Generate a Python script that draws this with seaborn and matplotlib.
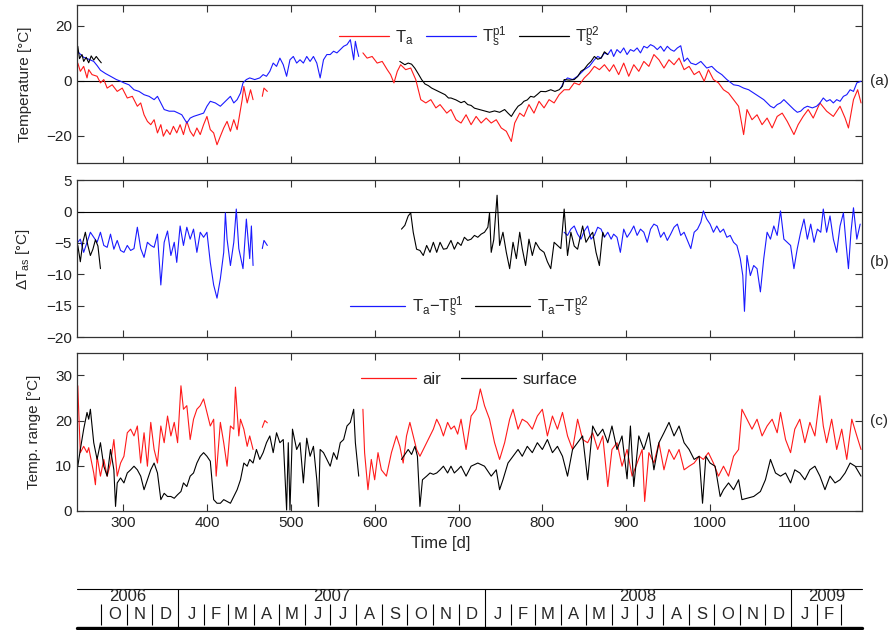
import numpy as np
import pandas as pd
import matplotlib.pyplot as plt
import seaborn as sns
from matplotlib.lines import Line2D

# ---------------- DATA (day 1 = 1 Jan 2006) ----------------
# None marks a gap in the record

# panel (a): air temperature
ta_day = [246, 249, 253, 257, 259, 263, 269, 273, 277, 281,
          287, 293, 299, 305, 311, 317, 321, 325, 329, 333,
          337, 341, 345, 348, 352, 356, 360, 364, 368, 372,
          376, 380, 384, 388, 392, 396, 400, 404, 408, 412,
          416, 420, 424, 428, 432, 436, 440, 442, 444, 448,
          452, 455, 460, 466, 468, 472, 530,
          586, 591, 597, 603, 609, 615, 619, 623, 627, 631,
          637, 643, 649, 655, 661, 667, 673, 678, 686, 691,
          697, 703, 709, 715, 721, 727, 733, 739, 745, 751,
          757, 763, 767, 773, 778, 784, 790, 796, 802, 808,
          814, 820, 826, 832, 838, 844, 850, 856, 862, 868,
          874, 880, 885, 891, 897, 903, 909, 915, 921, 927,
          933, 939, 945, 951, 957, 963, 969, 975, 981, 987,
          993, 998, 1004, 1010, 1016, 1022, 1028, 1034, 1040, 1044,
          1050, 1056, 1062, 1068, 1074, 1080, 1086, 1092, 1100, 1105,
          1111, 1117, 1123, 1131, 1139, 1147, 1155, 1161, 1165, 1171,
          1176, 1180]
ta_val = [6.4, 3.4, 5.2, 1.0, 4.0, 2.2, 1.6, -0.8, 0.4, -2.7,
          -1.5, -3.9, -2.7, -6.3, -5.7, -9.3, -8.1, -12.4, -14.8, -16,
          -14.2, -19, -16, -20.2, -17.8, -19.6, -16.6, -19, -16, -19.6,
          -14.8, -18.4, -20.2, -17.2, -19.6, -16, -13, -17.8, -19, -23.3,
          -20.2, -17.2, -14.8, -18.4, -14.2, -17.8, -10.5, -6.9, -2.1, -8.1,
          -3.3, -6.9, None, -5.7, -2.7, -3.9, None,
          10.1, 8.2, 8.8, 6.4, 7, 4, 2.2, -0.8, 3.4, 5.8,
          4, 4.6, 0.4, -6.9, -8.1, -6.9, -9.9, -8.7, -11.8, -10.5,
          -14.2, -15.4, -12.4, -16, -13, -15.4, -13.6, -15.4, -14.2, -17.2,
          -18.4, -22.1, -15.4, -11.8, -13, -8.7, -11.8, -7.5, -9.9, -6.9,
          -8.1, -5.1, -3.3, -3.3, -0.8, -1.5, 1, 2.8, 5.2, 4,
          5.8, 3.4, 5.8, 2.2, 6.4, 1.6, 5.8, 3.4, 7, 5.2,
          9.5, 7.6, 4.6, 7.6, 5.8, 8.2, 4, 5.2, 2.2, 3.4,
          -0.2, 4, 0.4, -0.8, -3.3, -4.5, -6.9, -9.3, -19.6, -10.5,
          -14.2, -12.4, -16, -13.6, -17.2, -13, -11.8, -14.8, -19.6, -16,
          -13, -10.5, -13.6, -8.1, -11.1, -13, -9.3, -13.6, -17.2, -6.9,
          -3.3, -8.1]

# panel (a): surface temperature, profile p1
ts1_day = [246, 253, 259, 265, 269, 273, 279, 285, 292, 297,
           301, 307, 313, 319, 325, 331, 337, 341, 345, 349,
           355, 361, 366, 370, 376, 380, 384, 390, 396, 400,
           404, 410, 416, 420, 424, 428, 432, 436, 440, 443,
           447, 451, 457, 463, 467, 471, 475, 479, 483, 487,
           491, 495, 499, 503, 507, 511, 515, 519, 523, 527,
           531, 535, 539, 543, 547, 551, 555, 559, 563, 567,
           571, 575, 577, 579, 581, 700,
           822, 826, 830, 836, 842, 846, 850, 856, 862, 866,
           870, 874, 878, 882, 885, 889, 893, 897, 901, 905,
           909, 913, 917, 921, 925, 929, 933, 937, 941, 945,
           949, 953, 957, 961, 965, 969, 973, 977, 983, 989,
           996, 1002, 1008, 1014, 1020, 1028, 1034, 1040, 1046, 1052,
           1058, 1064, 1068, 1072, 1076, 1080, 1084, 1088, 1094, 1100,
           1104, 1108, 1112, 1116, 1122, 1127, 1131, 1135, 1139, 1143,
           1147, 1151, 1155, 1159, 1163, 1167, 1171, 1175, 1180]
ts1_val = [10.5, 8.5, 7.8, 7, 5.5, 3.8, 2.6, 1.6, 0.4, -0.2,
           -0.8, -1.5, -3.3, -3.9, -5.1, -5.7, -6.9, -5.7, -8.1, -10.5,
           -11.1, -11.1, -11.8, -12.4, -15.4, -13.6, -13, -12.4, -11.8, -9.3,
           -7.5, -8.1, -9.3, -8.1, -6.9, -5.7, -8.1, -6.9, -4.5, -0.8,
           0.4, 1, 0.4, 1, 2.2, 1.6, 3.4, 6.4, 5.2, 8.2,
           5.8, 1.6, 7.6, 8.8, 6.4, 7.6, 6.4, 8.8, 7, 8.8,
           6.4, 1, 7.6, 9.5, 9.5, 10.7, 10.1, 11.3, 12.5, 13.1,
           14.9, 7.6, 14.3, 11.3, 8.8, None,
           -2.7, -0.2, 1, 0.4, 1.6, 2.8, 4, 5.2, 7.6, 8.8,
           8.2, 10.1, 9.5, 11.3, 8.8, 11.3, 10.1, 11.9, 9.5, 11.3,
           10.7, 11.9, 10.1, 12.5, 11.9, 13.1, 12.5, 11.3, 12.5, 10.7,
           12.5, 11.3, 10.7, 11.9, 12.7, 7, 8.2, 6.4, 5.8, 7,
           4.6, 5.2, 3.4, 2.2, 0.4, -1.5, -1.8, -2.7, -3.3, -4.5,
           -5.7, -6.9, -8.1, -9.3, -9.9, -8.7, -8.1, -6.9, -8.7, -10.5,
           -11.5, -11.1, -9.9, -9.3, -9.9, -9.3, -8.1, -6.3, -7.5, -6.9,
           -8.1, -6.9, -7.5, -5.7, -5.1, -3.3, -3.9, -0.8, -0.2]

# panel (a): surface temperature, profile p2
ts2_day = [246, 248, 251, 253, 256, 259, 262, 265, 268, 271,
           274, 450,
           630, 636, 640, 644, 648, 652, 656, 660, 664, 668,
           672, 676, 680, 684, 688, 691, 697, 703, 707, 711,
           715, 719, 725, 731, 737, 743, 749, 755, 759, 763,
           767, 771, 775, 778, 782, 786, 790, 794, 798, 804,
           810, 815, 820, 824, 826, 832, 838, 842, 846, 850,
           854, 858, 862, 866, 870, 874, 878]
ts2_val = [12.5, 8, 9.5, 7, 8.5, 6.5, 9, 7.5, 8.8, 7.6,
           6.5, None,
           7, 5.8, 6.4, 6, 4.5, 2.5, 0.4, -1.2, -1.8, -2.7,
           -3.3, -3.9, -4.5, -5.1, -6.3, -6.3, -7, -8, -7.5, -8.7,
           -9, -10, -10.5, -11, -11.5, -11, -11.5, -10.5, -11.8, -13,
           -11, -9.3, -8.5, -7.5, -7, -5.7, -6, -5, -3.9, -4,
           -3.3, -3.9, -3.3, -2, 0.4, 0.2, 0.4, 1.5, 3.4, 4.2,
           5.8, 7, 8.8, 7.8, 8.2, 10.5, 9.5]

# panel (b): Ta - Ts(p1)
d1_day = [246, 249, 253, 257, 261, 265, 269, 273, 277, 281,
          285, 289, 293, 297, 301, 305, 309, 313, 317, 321,
          325, 329, 333, 337, 341, 345, 349, 353, 357, 361,
          364, 368, 372, 376, 380, 384, 388, 392, 396, 400,
          404, 408, 412, 416, 420, 422, 424, 428, 432, 435,
          438, 443, 447, 451, 453, 455, 460, 466, 468, 472, 600,
          826, 830, 834, 838, 842, 846, 850, 854, 858, 862,
          866, 870, 874, 878, 882, 885, 889, 893, 897, 901,
          905, 909, 913, 917, 921, 925, 929, 933, 937, 941,
          945, 949, 953, 957, 961, 965, 969, 973, 977, 981,
          985, 989, 992, 996, 1000, 1004, 1008, 1012, 1016, 1020,
          1024, 1028, 1032, 1036, 1039, 1041, 1044, 1048, 1052, 1056,
          1060, 1064, 1068, 1072, 1076, 1080, 1084, 1088, 1092, 1096,
          1100, 1104, 1108, 1112, 1116, 1120, 1124, 1128, 1132, 1135,
          1139, 1143, 1147, 1151, 1155, 1159, 1162, 1165, 1168, 1171,
          1175, 1179]
d1_val = [-4.9, -4.4, -6.5, -4.9, -3.3, -4.1, -4.9, -3.3, -5.4, -5.7,
          -3.6, -6, -4.6, -6.2, -6.5, -5.4, -6.2, -5.9, -2.5, -5.9,
          -7.3, -4.9, -5.4, -5.7, -3.6, -11.7, -4.9, -3.1, -7, -4.9,
          -8.1, -2.3, -5.4, -2.5, -4.4, -2.8, -6.5, -3.3, -4.1, -3.3,
          -8.1, -11.7, -13.8, -10.7, -6.5, -0.2, -4.4, -8.6, -4.9, 0.4,
          -5.9, -9.1, -1.2, -7.5, -2.3, -8.6, None, -5.9, -4.6, -5.4, None,
          -3.3, -3.8, -2.8, -2.3, -3.6, -4.4, -3.1, -2.3, -4.4, -3.8,
          -2.5, -2.8, -4.1, -3.3, -4.4, -3.6, -4.1, -6.5, -2.8, -4.1,
          -3.3, -2.3, -3.8, -2.8, -3.3, -4.9, -2.8, -2, -2.3, -4.1,
          -3.3, -4.6, -3.6, -2.5, -2, -3.8, -3.3, -4.6, -5.9, -3.3,
          -2.8, -1.7, 0.1, -1.2, -2, -3.3, -2.3, -3.3, -2.8, -4.1,
          -3.8, -4.9, -5.4, -7.5, -10.2, -15.9, -7, -10.2, -8.6, -9.1,
          -12.8, -7.5, -3.3, -4.4, -2.3, -3.8, 0.1, -4.4, -4.9, -5.4,
          -9.1, -5.9, -3.3, -1.2, -4.4, -2, -4.9, -2.8, -3.3, 0.4,
          -3.3, -0.7, -4.4, -6.5, -2.3, -0.2, -4.9, -9.1, -3.3, 0.6,
          -4.4, -2]

# panel (b): Ta - Ts(p2)
d2_day = [246, 249, 252, 255, 258, 261, 264, 267, 270, 273, 450,
          632, 636, 640, 643, 646, 650, 654, 658, 662, 666,
          670, 674, 678, 682, 686, 691, 695, 699, 703, 707,
          711, 715, 719, 723, 727, 731, 735, 737, 739, 742,
          746, 749, 753, 757, 761, 765, 769, 773, 776, 780,
          784, 788, 792, 797, 802, 806, 810, 814, 818, 822,
          826, 830, 834, 838, 842, 848, 852, 856, 860, 864,
          868, 872, 874]
d2_val = [-5.4, -8, -4.9, -3.3, -5.4, -7, -6, -4.5, -5.5, -9.1, None,
          -2.8, -2.2, -0.7, -0.2, -3.3, -6, -6.2, -7, -5.4, -6.5,
          -4.9, -6.5, -4.9, -6, -5.9, -4.6, -6, -4.9, -5.4, -4.1,
          -4.6, -4.4, -3.8, -4.1, -3.6, -3.3, -2.5, -0.2, -6.5, -4.5,
          2.6, -5.4, -3.3, -6.5, -9.1, -4.9, -7.5, -3.3, -5.9, -8.6,
          -4.4, -7, -4.9, -6, -6.5, -8, -9.1, -4.9, -5.4, -5.9,
          0.4, -7, -3.3, -5.5, -6, -2.3, -4.9, -4, -3.3, -6.5,
          -8.6, -3.3, -4]

# panel (c): daily temperature range of the air
air_day = [246, 247, 249, 253, 257, 259, 261, 265, 267, 269,
           273, 277, 281, 285, 289, 293, 297, 301, 305, 309,
           313, 317, 321, 325, 329, 333, 337, 341, 345, 349,
           353, 357, 361, 365, 369, 372, 376, 380, 384, 388,
           392, 396, 400, 404, 408, 411, 416, 420, 424, 428,
           432, 434, 438, 440, 444, 448, 451, 455, 460, 466, 469, 472, 530,
           586, 588, 592, 596, 600, 604, 608, 614, 620, 626,
           630, 634, 638, 642, 646, 650, 654, 658, 662, 666,
           670, 674, 678, 682, 687, 691, 695, 699, 703, 709,
           715, 721, 726, 731, 737, 743, 749, 755, 761, 765,
           771, 776, 782, 788, 794, 800, 806, 812, 818, 824,
           830, 836, 842, 848, 854, 860, 866, 872, 878, 883,
           889, 895, 901, 907, 913, 919, 922, 927, 933, 939,
           945, 951, 957, 963, 969, 975, 981, 987, 992, 998,
           1004, 1010, 1016, 1022, 1028, 1034, 1038, 1044, 1050, 1056,
           1062, 1068, 1074, 1080, 1084, 1090, 1096, 1101, 1107, 1113,
           1119, 1125, 1131, 1135, 1139, 1145, 1151, 1157, 1163, 1169,
           1175, 1180]
air_val = [27.7, 22.5, 12.9, 14.3, 12.9, 14, 12.1, 8.4, 5.8, 12.1,
           7.7, 11.4, 7.7, 10.6, 15.8, 7.7, 10.6, 12.1, 17.3, 18.1,
           16.6, 18.8, 10.6, 17.3, 9.9, 19.6, 13.6, 10.6, 18.8, 15.1,
           21, 16.6, 19.6, 15.1, 27.7, 22.5, 23.3, 15.8, 20.3, 22.5,
           23.3, 24.8, 21.8, 18.8, 20.3, 7.7, 19.6, 15.1, 9.9, 18.8,
           18.1, 27.4, 16.6, 20.3, 18.1, 14.3, 16.6, 13.6, None, 18.5, 20, 19.5, None,
           22.5, 12.9, 4.7, 11.4, 6.9, 12.9, 9.1, 7.7, 12.9, 16.6,
           14.3, 10.6, 16.6, 19.6, 16.6, 13.6, 12.1, 13.6, 15.1, 16.6,
           18.1, 20.3, 18.8, 16.6, 19.6, 18.1, 18.8, 17, 20.3, 13.6,
           21, 22.5, 27, 23.3, 20.3, 15.1, 11.4, 15.1, 20.3, 22.5,
           18.1, 20.3, 19.6, 18.1, 21, 22.5, 16.6, 21, 18.1, 21.8,
           16.6, 13.6, 20.3, 15.8, 15.1, 17.3, 13.6, 16.6, 5.4, 13.6,
           15.1, 9.9, 13.6, 7.7, 10.6, 13.6, 2.1, 12.9, 10.6, 15.1,
           9.1, 13.6, 11.4, 13.6, 9.1, 9.9, 10.6, 12.1, 11.4, 12.9,
           10.6, 7.7, 9.9, 7.7, 12.1, 13.6, 22.5, 20.3, 18.1, 20.3,
           16.6, 18.8, 20.3, 17.3, 21.8, 15.8, 12.9, 18.1, 20.3, 15.1,
           19.6, 16.6, 25.5, 18.8, 15.1, 20.3, 13.6, 18.1, 11.4, 20.3,
           16.6, 13.6]

# panel (c): daily temperature range of the surface
sfc_day = [246, 249, 253, 257, 259, 261, 265, 269, 273, 277,
           281, 285, 289, 291, 293, 297, 301, 305, 309, 313,
           317, 321, 325, 329, 333, 337, 341, 345, 349, 353,
           357, 361, 365, 369, 372, 376, 380, 384, 388, 392,
           396, 400, 404, 408, 412, 416, 420, 424, 428, 432,
           436, 440, 444, 448, 451, 455, 459, 463, 467, 471,
           475, 479, 483, 487, 491, 495, 497, 499, 502, 507,
           511, 515, 519, 523, 527, 531, 533, 535, 539, 543,
           547, 551, 555, 559, 563, 567, 571, 575, 577, 581, 600,
           632, 636, 640, 644, 648, 651, 654, 657, 662, 666,
           670, 674, 678, 682, 687, 691, 695, 699, 703, 709,
           715, 723, 731, 739, 745, 749, 753, 759, 765, 771,
           776, 782, 788, 794, 800, 806, 812, 818, 824, 830,
           836, 842, 848, 854, 860, 866, 872, 878, 883, 889,
           895, 901, 905, 909, 915, 921, 927, 933, 939, 945,
           951, 957, 963, 969, 975, 981, 987, 991, 995, 1000,
           1006, 1012, 1016, 1022, 1028, 1034, 1038, 1044, 1052, 1060,
           1066, 1072, 1078, 1084, 1090, 1096, 1101, 1107, 1113, 1119,
           1125, 1131, 1137, 1143, 1149, 1155, 1161, 1167, 1173, 1180]
sfc_val = [9.9, 13.6, 18.1, 21.8, 20.3, 22.5, 15.1, 11.4, 15.1, 9.9,
           7.7, 13.6, 9.1, 1, 6.2, 7.3, 6.2, 8.4, 9.1, 9.9,
           9.1, 7.7, 4.7, 6.9, 9.1, 10.6, 8.4, 2.5, 3.9, 3.2,
           3.2, 2.8, 3.6, 4.3, 6.2, 5.4, 7.7, 8.4, 10.6, 12.1,
           12.9, 12.1, 11, 2.5, 1.7, 1.7, 2.5, 2.1, 1.7, 3.2,
           4.7, 6.9, 10.6, 9.9, 11.4, 10.6, 13.6, 11.4, 12.9, 15.1,
           16.6, 12.9, 17.3, 15.1, 15.8, 0.2, 15.1, 0.2, 18.1, 13.6,
           15.1, 6.2, 16.1, 12.1, 14.3, 6.9, 1, 13.6, 12.9, 11.4,
           9.9, 12.9, 11.4, 15.1, 15.8, 18.8, 19.6, 22.5, 15.1, 7.7, None,
           11.4, 12.5, 13.6, 12.5, 14.3, 12.1, 1, 6.9, 7.7, 8.4,
           8.1, 8.4, 9.1, 9.9, 8.4, 9.9, 8.4, 9.1, 9.9, 7.7,
           9.9, 10.6, 9.9, 7.7, 9.1, 4.7, 6.9, 10.6, 12.1, 13.6,
           12.1, 14.3, 12.9, 15.1, 13.6, 15.8, 12.9, 14.3, 12.1, 7.7,
           13.6, 15.1, 16.6, 6.9, 18.8, 16.6, 18.1, 15.1, 18.8, 13.6,
           16.6, 7.1, 18.8, 5.4, 16.6, 13.6, 17.3, 9.1, 15.1, 17.3,
           19.6, 16.6, 18.8, 15.1, 13.6, 11.4, 12.1, 1.7, 12.1, 10.6,
           9.9, 3.2, 4.7, 6.2, 4.7, 6.9, 2.5, 2.8, 3.2, 4.3,
           6.9, 11.4, 8.4, 7.7, 8.4, 6.2, 9.1, 8.4, 6.9, 9.1,
           9.9, 7.7, 4.7, 7.7, 6.2, 6.9, 8.4, 10.6, 9.9, 7.7]

# calendar strip
day_zero = '2005-12-31'
strip_start = '2006-10-01'
strip_end = '2009-03-01'
years = [2006, 2007, 2008, 2009]

XLIM = (245, 1181)

# ---------------- STYLE ----------------
sns.set_theme(style='ticks')
plt.rcParams['font.family'] = ['Liberation Sans', 'DejaVu Sans']
plt.rcParams['mathtext.default'] = 'regular'
plt.rcParams['axes.edgecolor'] = '#333333'
plt.rcParams['axes.linewidth'] = 0.9

RED = '#ff1a1a'
BLUE = '#1a1aff'
BLACK = '#000000'
FS = 11


def draw(ax, days, vals, color):
    df = pd.DataFrame({'day': days, 'val': pd.to_numeric(pd.Series(vals), errors='coerce')})
    df['seg'] = df['val'].isna().cumsum()
    df = df.dropna()
    sns.lineplot(data=df, x='day', y='val', units='seg', estimator=None,
                 color=color, lw=0.8, ax=ax, legend=False)


def style_axis(ax, ylim, yticks, ylabel, tag, tag_y, show_x=False):
    ax.set_xlim(*XLIM)
    ax.set_ylim(*ylim)
    ax.set_yticks(yticks)
    ax.set_xticks(range(300, 1101, 100))
    ax.tick_params(direction='in', top=True, right=True, length=5,
                   width=0.8, labelsize=FS, colors='#333333', labelcolor='#222222')
    if not show_x:
        ax.set_xticklabels([])
        ax.set_xlabel('')
    ax.set_ylabel(ylabel, fontsize=FS, labelpad=10)
    ax.text(1.010, tag_y, tag, transform=ax.transAxes, ha='left', va='center', fontsize=FS)


fig = plt.figure(figsize=(8.96, 6.3), dpi=100)
L, W = 0.0859, 0.876
ax_a = fig.add_axes([L, 0.741, W, 0.251])
ax_b = fig.add_axes([L, 0.465, W, 0.249])
ax_c = fig.add_axes([L, 0.189, W, 0.251])
ax_t = fig.add_axes([L, 0.003, W, 0.062])

# ---------------- (a) ----------------
ax_a.axhline(0, color='black', lw=0.8)
draw(ax_a, ta_day, ta_val, RED)
draw(ax_a, ts1_day, ts1_val, BLUE)
draw(ax_a, ts2_day, ts2_val, BLACK)
style_axis(ax_a, (-30, 27.5), [-20, 0, 20], 'Temperature [°C]', '(a)', 0.52)
ax_a.legend([Line2D([], [], color=c, lw=0.9) for c in (RED, BLUE, BLACK)],
            ['T$_a$', 'T$_s^{p1}$', 'T$_s^{p2}$'],
            loc='upper center', bbox_to_anchor=(0.5, 0.97), ncol=3, frameon=False,
            fontsize=FS + 1, handlelength=3.0, handletextpad=0.4, columnspacing=0.7)

# ---------------- (b) ----------------
ax_b.axhline(0, color='black', lw=0.8)
draw(ax_b, d1_day, d1_val, BLUE)
draw(ax_b, d2_day, d2_val, BLACK)
style_axis(ax_b, (-20, 5), [-20, -15, -10, -5, 0, 5], r'$\Delta$T$_{as}$ [°C]', '(b)', 0.48)
ax_b.legend([Line2D([], [], color=c, lw=0.9) for c in (BLUE, BLACK)],
            ['T$_a$\u2212T$_s^{p1}$', 'T$_a$\u2212T$_s^{p2}$'],
            loc='lower center', bbox_to_anchor=(0.5, 0.02), ncol=2, frameon=False,
            fontsize=FS + 1, handlelength=3.3, handletextpad=0.4, columnspacing=0.7)

# ---------------- (c) ----------------
draw(ax_c, air_day, air_val, RED)
draw(ax_c, sfc_day, sfc_val, BLACK)
style_axis(ax_c, (0, 35), [0, 10, 20, 30], 'Temp. range [°C]', '(c)', 0.57, show_x=True)
ax_c.set_xlabel('Time [d]', fontsize=FS + 1)
ax_c.xaxis.set_label_coords(0.463, -0.16)
ax_c.legend([Line2D([], [], color=c, lw=0.9) for c in (RED, BLACK)],
            ['air', 'surface'],
            loc='upper center', bbox_to_anchor=(0.5, 0.975), ncol=2, frameon=False,
            fontsize=FS + 1, handlelength=3.3, handletextpad=0.4, columnspacing=1.2)

# ---------------- calendar strip ----------------
ax_t.set_xlim(*XLIM)
ax_t.set_ylim(0, 1)
ax_t.axis('off')
ax_t.axhline(1, color='black', lw=0.8, clip_on=False)
ax_t.axhline(0, color='black', lw=2.4, clip_on=False)

origin = pd.Timestamp(day_zero)
months = pd.date_range(strip_start, strip_end, freq='MS')
mdays = [(m - origin).days for m in months]
for m, d0, d1 in zip(months[:-1], mdays[:-1], mdays[1:]):
    ax_t.text((d0 + d1) / 2, 0.34, m.strftime('%b')[0], ha='center', va='center', fontsize=12)
jan = [d for m, d in zip(months, mdays) if m.month == 1]
other = [d for m, d in zip(months, mdays) if m.month != 1]
ax_t.vlines(other, 0.08, 0.62, color='black', lw=0.8)
ax_t.vlines(jan, 0, 1, color='black', lw=0.8)
bounds = [XLIM[0]] + jan + [XLIM[1]]
for y, a, b in zip(years, bounds[:-1], bounds[1:]):
    ax_t.text((a + b) / 2, 0.80, str(y), ha='center', va='center', fontsize=12)

plt.savefig('out.png', dpi=100)
